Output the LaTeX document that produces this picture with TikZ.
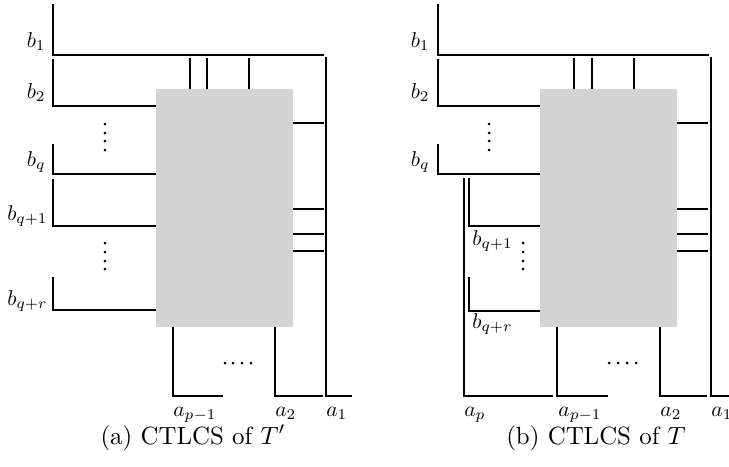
\documentclass[tikz,border=0pt]{standalone}
\usepackage{tikz}
\definecolor{boxgray}{RGB}{211,211,211}
\begin{document}
\begin{tikzpicture}[x=0.43pt,y=-0.43pt,
  wire/.style={line width=1.0pt,line cap=butt},
  blk/.style={fill=boxgray,draw=none,inner sep=0pt,minimum width=137*0.43pt,minimum height=238*0.43pt,anchor=north west},
  lblL/.style={anchor=base east,inner sep=0pt,scale=0.92},
  lblR/.style={anchor=base west,inner sep=0pt,scale=0.92},
  captext/.style={anchor=base,inner sep=0pt,scale=1.07}]
\useasboundingbox (0,0) rectangle (729,466);
% ===== panel (a) =====
\node[blk] (boxA) at (156,89) {};
\draw[wire] (53,4) -- (53,55) -- (324,55);
\draw[wire] (326,57) -- (326,396) -- (352,396);
\draw[wire] (53,59) -- (53,106) -- (156,106);
\draw[wire] (190,58) -- (190,89);
\draw[wire] (207,58) -- (207,89);
\draw[wire] (249,58) -- (249,89);
\foreach \yy in {123,209,234,251} \draw[wire] (293,\yy) -- (324,\yy);
\draw[wire] (53,144) -- (53,174) -- (156,174);
\draw[wire] (53,179) -- (53,226) -- (156,226);
\draw[wire] (53,277) -- (53,310) -- (156,310);
\draw[wire] (173,327) -- (173,396) -- (223,396);
\draw[wire] (275,327) -- (275,396) -- (323,396);
\foreach \yy in {124,133,141,150} \fill (105,\yy) circle (1.5);
\foreach \yy in {243,252,261,269} \fill (105,\yy) circle (1.5);
\foreach \xx in {225,233,242,251} \fill (\xx,363) circle (1.5);
\node[lblL] (a-b1) at (46,47) {$b_1$};
\node[lblL] (a-b2) at (46,98) {$b_2$};
\node[lblL] (a-bq) at (46,166) {$b_q$};
\node[lblL] (a-bq1) at (48,220) {$b_{q+1}$};
\node[lblL] (a-bqr) at (48,305) {$b_{q+r}$};
\node[lblR] (a-ap1) at (173,416) {$a_{p-1}$};
\node[lblR] (a-a2) at (275,416) {$a_2$};
\node[lblR] (a-a1) at (326,416) {$a_1$};
\node[captext] (capA) at (193,444) {(a) CTLCS of $T'$};
% ===== panel (b) =====
\node[blk] (boxB) at (540,89) {};
\draw[wire] (438,4) -- (438,55) -- (709,55);
\draw[wire] (711,57) -- (711,396) -- (729,396);
\draw[wire] (438,59) -- (438,106) -- (540,106);
\draw[wire] (574,58) -- (574,89);
\draw[wire] (592,58) -- (592,89);
\draw[wire] (634,58) -- (634,89);
\foreach \yy in {123,209,234,251} \draw[wire] (677,\yy) -- (708,\yy);
\draw[wire] (438,144) -- (438,174) -- (540,174);
\draw[wire] (464,178) -- (464,396) -- (553,396);
\draw[wire] (469,178) -- (469,226) -- (540,226);
\draw[wire] (469,277) -- (469,311) -- (540,311);
\draw[wire] (557,327) -- (557,396) -- (608,396);
\draw[wire] (660,327) -- (660,396) -- (707,396);
\foreach \yy in {124,133,141,150} \fill (489,\yy) circle (1.5);
\foreach \yy in {243,252,261,269} \fill (523,\yy) circle (1.5);
\foreach \xx in {609,618,627,636} \fill (\xx,363) circle (1.5);
\node[lblL] (b-b1) at (430,47) {$b_1$};
\node[lblL] (b-b2) at (430,98) {$b_2$};
\node[lblL] (b-bq) at (430,166) {$b_q$};
\node[lblR] (b-bq1) at (472,245) {$b_{q+1}$};
\node[lblR] (b-bqr) at (472,328) {$b_{q+r}$};
\node[lblR] (b-ap) at (464,416) {$a_p$};
\node[lblR] (b-ap1) at (558,416) {$a_{p-1}$};
\node[lblR] (b-a2) at (660,416) {$a_2$};
\node[lblR] (b-a1) at (711,416) {$a_1$};
\node[captext] (capB) at (596,444) {(b) CTLCS of $T$};
\end{tikzpicture}
\end{document}
